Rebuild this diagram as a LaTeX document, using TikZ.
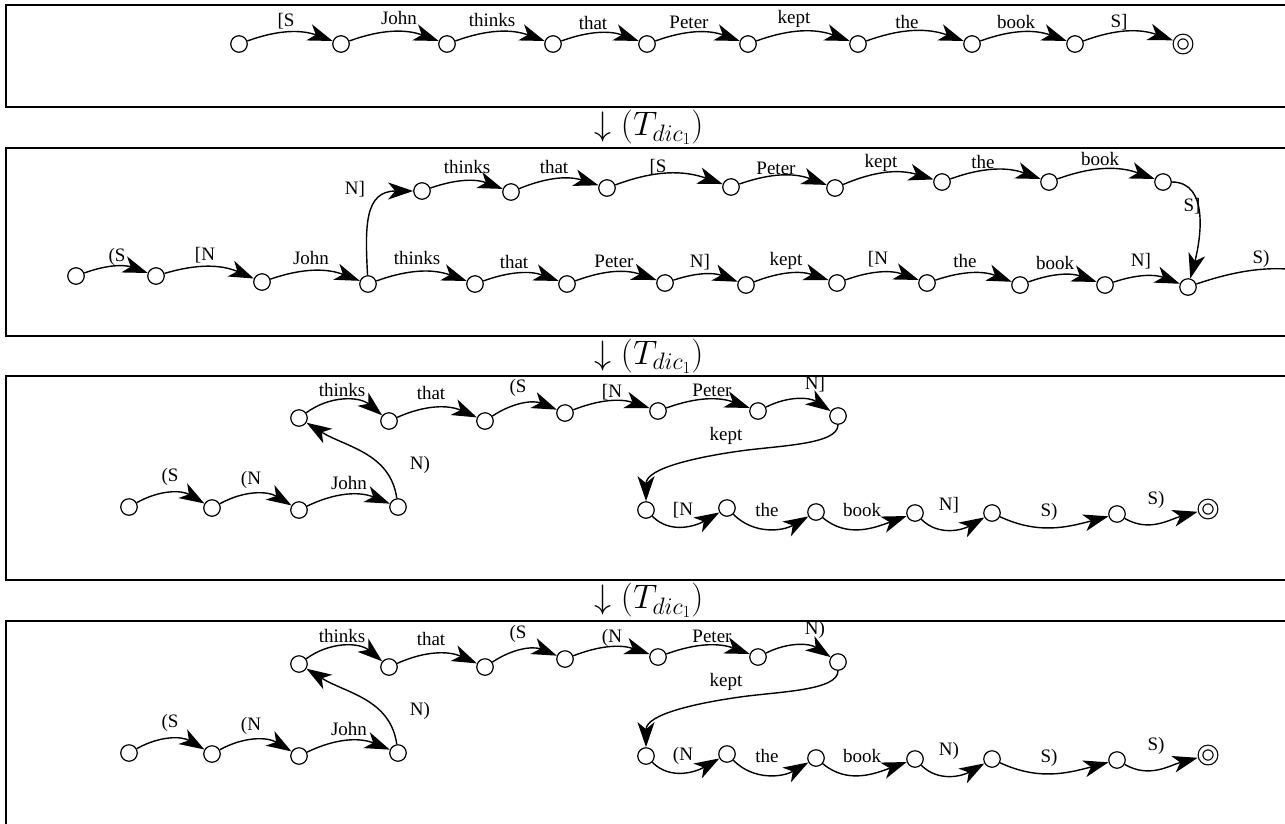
\RequirePackage{fix-cm}
\documentclass[tikz,border=0pt]{standalone}
\usepackage{fontspec}
\usetikzlibrary{arrows.meta}
\newfontfamily\labfont{Liberation Serif}

\tikzset{
  st/.style={circle, draw, line width=1.2pt, minimum size=16.5pt, inner sep=0pt, fill=white},
  fin/.style={circle, draw, line width=1.2pt, double=white, double distance=3.4pt,
              minimum size=15pt, inner sep=0pt, outer sep=3.2pt},
  ed/.style={line width=1.4pt, -{Stealth[length=25pt,width=17pt,inset=7pt]}},
  lab/.style={font=\fontsize{19}{21}\selectfont\labfont, inner sep=0pt},
  frm/.style={line width=2.8pt},
  trans/.style={font=\fontsize{34}{36}\selectfont, inner sep=0pt},
  sag/.style={out=-45, in=-150},
}

% lower automaton (two rows joined by a back edge and an S-shaped edge)
% #1 name prefix, #2 vertical shift, #3 opening N label, #4 closing N label
\newcommand\tailrows[4]{%
\begin{scope}[yshift=#2]
  \node[st] (#1L1) at (129,-507) {};
  \node[st] (#1L2) at (212,-508) {};
  \node[st] (#1L3) at (299,-510) {};
  \node[st] (#1L4) at (398,-507) {};
  \node[st] (#1U1) at (299,-418) {};
  \node[st] (#1U2) at (389,-421) {};
  \node[st] (#1U3) at (485,-421) {};
  \node[st] (#1U4) at (565,-413) {};
  \node[st] (#1U5) at (658,-411) {};
  \node[st] (#1U6) at (758,-411) {};
  \node[st] (#1U7) at (838,-416) {};
  \node[st] (#1R1) at (646,-510) {};
  \node[st] (#1R2) at (727,-508) {};
  \node[st] (#1R3) at (816,-512) {};
  \node[st] (#1R4) at (915,-513) {};
  \node[st] (#1R5) at (992,-513) {};
  \node[st] (#1R6) at (1117,-514) {};
  \node[fin] (#1R7) at (1208,-509) {};
  \coordinate (#1kc) at (740,-451);
  % edges
  \draw[ed] (#1L1) to[bend left=30] (#1L2);
  \draw[ed] (#1L2) to[bend left=30] (#1L3);
  \draw[ed] (#1L3) to[bend left=24] (#1L4);
  \draw[ed] (#1L4) to[out=98, in=-32] (#1U1);
  \draw[ed] (#1U1) to[bend left=38] (#1U2);
  \draw[ed] (#1U2) to[bend left=24] (#1U3);
  \draw[ed] (#1U3) to[bend left=28] (#1U4);
  \draw[ed] (#1U4) to[bend left=20] (#1U5);
  \draw[ed] (#1U5) to[bend left=20] (#1U6);
  \draw[ed] (#1U6) to[bend left=30] (#1U7);
  \draw[ed] (#1U7) to[out=-90, in=8, out looseness=0.5] (#1kc)
                   to[out=188, in=90, in looseness=0.8] (#1R1);
  \draw[ed] (#1R1) to[sag] (#1R2);
  \draw[ed] (#1R2) to[sag] (#1R3);
  \draw[ed] (#1R3) to[out=-40, in=-160] (#1R4);
  \draw[ed] (#1R4) to[sag] (#1R5);
  \draw[ed] (#1R5) to[out=-25, in=-165] (#1R6);
  \draw[ed] (#1R6) to[out=-30, in=-165] (#1R7);
  % labels
  \node[lab] (#1l1) at (170,-477) {(S};
  \node[lab] (#1l2) at (251,-480) {(N};
  \node[lab] (#1l3) at (349,-483) {John};
  \node[lab] (#1l4) at (420,-465) {N)};
  \node[lab] (#1l5) at (342,-390) {thinks};
  \node[lab] (#1l6) at (431,-393) {that};
  \node[lab] (#1l7) at (518,-388) {(S};
  \node[lab] (#1l8) at (612,-392) {#3};
  \node[lab] (#1l9) at (712,-390) {Peter};
  \node[lab] (#1l10) at (815,-384) {#4};
  \node[lab] (#1l11) at (726,-436) {kept};
  \node[lab] (#1l12) at (683,-510) {#3};
  \node[lab] (#1l13) at (767,-510) {the};
  \node[lab] (#1l14) at (862,-510) {book};
  \node[lab] (#1l15) at (949,-505) {#4};
  \node[lab] (#1l16) at (1049,-512) {S)};
  \node[lab] (#1l17) at (1156,-500) {S)};
\end{scope}}

\begin{document}
\begin{tikzpicture}[x=1pt, y=1pt]
\useasboundingbox (0,0) rectangle (1285,-823);
\begin{scope}
\clip (0,0) rectangle (1285,-823);

% ---------- frames ----------
\draw[frm] (1300,-5) -| (6,-107) -- (1300,-107);
\draw[frm] (1300,-148) -| (6,-336) -- (1300,-336);
\draw[frm] (1300,-376) -| (6,-580) -- (1300,-580);
\draw[frm] (1300,-621) -| (6,-840);

% ---------- transformation steps ----------
\node[trans] (m1) at (649,-127.5) {$\downarrow (T_{dic_1})$};
\node[trans] (m2) at (649,-356) {$\downarrow (T_{dic_1})$};
\node[trans] (m3) at (649,-600.5) {$\downarrow (T_{dic_1})$};

% ---------- sentence automaton ----------
\node[st] (a1) at (239,-44) {};
\node[st] (a2) at (341,-44) {};
\node[st] (a3) at (447,-44) {};
\node[st] (a4) at (553,-44) {};
\node[st] (a5) at (647,-44) {};
\node[st] (a6) at (748,-44) {};
\node[st] (a7) at (858,-44) {};
\node[st] (a8) at (972,-44) {};
\node[st] (a9) at (1075,-44) {};
\node[fin] (a10) at (1183,-44) {};
\foreach \i/\j in {1/2,2/3,3/4,4/5,5/6,6/7,7/8,8/9,9/10}
  \draw[ed] (a\i) to[bend left=20] (a\j);
\node[lab] (la1) at (286,-21) {[S};
\node[lab] (la2) at (399,-18) {John};
\node[lab] (la3) at (492,-20) {thinks};
\node[lab] (la4) at (593,-23) {that};
\node[lab] (la5) at (689,-22) {Peter};
\node[lab] (la6) at (794,-19) {kept};
\node[lab] (la7) at (907,-22) {the};
\node[lab] (la8) at (1016,-22) {book};
\node[lab] (la9) at (1119,-22) {S]};

% ---------- after first step ----------
\node[st] (b1) at (76,-276) {};
\node[st] (b2) at (156,-276) {};
\node[st] (b3) at (262,-282) {};
\node[st] (b4) at (368,-284) {};
\node[st] (b5) at (475,-284) {};
\node[st] (b6) at (567,-284) {};
\node[st] (b7) at (665,-283) {};
\node[st] (b8) at (746,-285) {};
\node[st] (b9) at (837,-283) {};
\node[st] (b10) at (927,-283) {};
\node[st] (b11) at (1020,-285) {};
\node[st] (b12) at (1105,-285) {};
\node[st] (b13) at (1188,-287) {};
\coordinate (bout) at (1345,-282);
\node[st] (t1) at (422,-191) {};
\node[st] (t2) at (511,-192) {};
\node[st] (t3) at (607,-188) {};
\node[st] (t4) at (731,-187) {};
\node[st] (t5) at (835,-188) {};
\node[st] (t6) at (942,-182) {};
\node[st] (t7) at (1049,-182) {};
\node[st] (t8) at (1163,-182) {};
\foreach \i/\j in {1/2,2/3,3/4,4/5,5/6,6/7,7/8,8/9,9/10,10/11,11/12,12/13}
  \draw[ed] (b\i) to[bend left=20] (b\j);
\draw[ed] (b13) to[bend left=18] (bout);
\draw[ed] (b4) to[out=93, in=180, looseness=1.3] (t1);
\foreach \i/\j in {1/2,2/3,3/4,4/5,5/6,6/7,7/8}
  \draw[ed] (t\i) to[bend left=20] (t\j);
\draw[ed] (t8) to[out=0, in=75] (b13);
\node[lab] (lb1) at (117,-257) {(S};
\node[lab] (lb2) at (205,-255) {[N};
\node[lab] (lb3) at (311,-258) {John};
\node[lab] (lb4) at (417,-258) {thinks};
\node[lab] (lb5) at (514,-262) {that};
\node[lab] (lb6) at (614,-261) {Peter};
\node[lab] (lb7) at (700,-262) {N]};
\node[lab] (lb8) at (786,-261) {kept};
\node[lab] (lb9) at (878,-259) {[N};
\node[lab] (lb10) at (965,-261) {the};
\node[lab] (lb11) at (1055,-263) {book};
\node[lab] (lb12) at (1141,-261) {N]};
\node[lab] (lb13) at (1261,-259) {S)};
\node[lab] (lt0) at (355,-189) {N]};
\node[lab] (lt1) at (467,-167) {thinks};
\node[lab] (lt2) at (554,-167) {that};
\node[lab] (lt3) at (658,-167) {[S};
\node[lab] (lt4) at (776,-168) {Peter};
\node[lab] (lt5) at (881,-163) {kept};
\node[lab] (lt6) at (983,-162) {the};
\node[lab] (lt7) at (1100,-159) {book};
\node[lab] (lt8) at (1192,-206) {S]};

% ---------- after second and third steps ----------
\tailrows{c}{0pt}{[N}{N]}
\tailrows{d}{-246pt}{(N}{N)}

\end{scope}
\end{tikzpicture}
\end{document}
